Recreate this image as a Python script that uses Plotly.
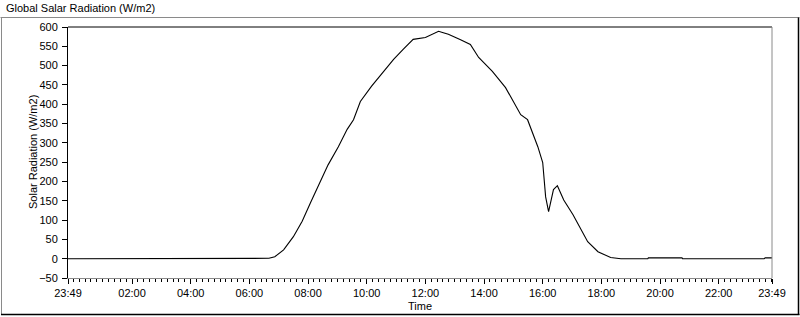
import plotly.graph_objects as go

# ---- data ----
times = [
    "2000-01-01 23:49", "2000-01-02 06:30", "2000-01-02 06:40", "2000-01-02 06:52",
    "2000-01-02 07:10", "2000-01-02 07:30", "2000-01-02 07:48", "2000-01-02 08:05",
    "2000-01-02 08:23", "2000-01-02 08:41", "2000-01-02 09:02", "2000-01-02 09:20",
    "2000-01-02 09:33", "2000-01-02 09:47", "2000-01-02 10:10", "2000-01-02 10:34",
    "2000-01-02 10:55", "2000-01-02 11:15", "2000-01-02 11:35", "2000-01-02 12:00",
    "2000-01-02 12:27", "2000-01-02 12:35", "2000-01-02 12:47", "2000-01-02 13:12",
    "2000-01-02 13:32", "2000-01-02 13:49", "2000-01-02 14:17", "2000-01-02 14:44",
    "2000-01-02 15:15", "2000-01-02 15:29", "2000-01-02 15:50", "2000-01-02 16:00",
    "2000-01-02 16:02", "2000-01-02 16:06", "2000-01-02 16:12", "2000-01-02 16:22",
    "2000-01-02 16:30", "2000-01-02 16:43", "2000-01-02 17:02", "2000-01-02 17:18",
    "2000-01-02 17:32", "2000-01-02 17:53", "2000-01-02 18:19", "2000-01-02 18:40",
    "2000-01-02 19:35", "2000-01-02 19:36", "2000-01-02 20:45", "2000-01-02 20:46",
    "2000-01-02 23:33", "2000-01-02 23:35", "2000-01-02 23:49",
]
radiation = [
    0, 0, 1, 5,
    23, 57, 97, 145,
    192, 243, 290, 335,
    360, 407, 447, 485,
    516, 543, 568, 573,
    589, 586, 581, 567,
    555, 521, 485, 443,
    373, 360, 290, 249,
    212, 160, 122, 179,
    189, 152, 114, 75,
    44, 18, 3, 0,
    0, 2, 2, 0,
    0, 2, 2,
]

x_tick_vals = [
    "2000-01-01 23:49", "2000-01-02 02:00", "2000-01-02 04:00", "2000-01-02 06:00",
    "2000-01-02 08:00", "2000-01-02 10:00", "2000-01-02 12:00", "2000-01-02 14:00",
    "2000-01-02 16:00", "2000-01-02 18:00", "2000-01-02 20:00", "2000-01-02 22:00",
    "2000-01-02 23:49",
]
x_tick_text = ["23:49", "02:00", "04:00", "06:00", "08:00", "10:00", "12:00",
               "14:00", "16:00", "18:00", "20:00", "22:00", "23:49"]

title_text = "Global Salar Radiation (W/m2)"
y_title = "Solar Radiation (W/m2)"
x_title = "Time"

FONT = "Liberation Sans"

fig = go.Figure()
fig.add_trace(go.Scatter(x=times, y=radiation, mode="lines",
                         line=dict(color="black", width=1.1), hoverinfo="skip"))

W, H = 800, 317
L, R, T, B = 68, 28, 27, 39
pw, ph = W - L - R, H - T - B


def px(xp):
    return (xp - L) / pw


def py(yp):
    return (H - B - yp) / ph


fig.update_layout(
    width=W, height=H,
    margin=dict(l=L, r=R, t=T, b=B, autoexpand=False),
    paper_bgcolor="white", plot_bgcolor="white",
    showlegend=False,
    font=dict(family=FONT, size=11, color="black"),
    xaxis=dict(
        type="date", range=[x_tick_vals[0], x_tick_vals[-1]],
        tickmode="array", tickvals=x_tick_vals, ticktext=x_tick_text,
        ticks="outside", ticklen=5, tickcolor="black", tickwidth=1,
        showline=True, linecolor="#8a8a8a", linewidth=1,
        showgrid=False, zeroline=False, automargin=False,
        ticklabelstandoff=0,
        tickfont=dict(family=FONT, size=11, color="black"),
        minor=dict(ticks="outside", ticklen=3, tickcolor="black", tickwidth=1,
                   tickmode="linear", tick0="2000-01-02 00:00", dtick=720000,
                   showgrid=False),
    ),
    yaxis=dict(
        range=[-50, 600], tickmode="linear", tick0=0, dtick=50,
        ticks="outside", ticklen=5, tickcolor="black", tickwidth=1,
        showline=True, linecolor="black", linewidth=1,
        showgrid=False, zeroline=False, automargin=False,
        ticklabelstandoff=2,
        tickfont=dict(family=FONT, size=11, color="black"),
    ),
)

shapes = [
    # plot frame: top black, right gray
    dict(type="line", xref="paper", yref="paper", x0=0, x1=1, y0=1, y1=1,
         line=dict(color="black", width=1)),
    dict(type="line", xref="paper", yref="paper", x0=1, x1=1, y0=0, y1=1,
         line=dict(color="#8a8a8a", width=1)),
    # outer frame: top/left gray, bottom/right black
    dict(type="line", xref="paper", yref="paper", x0=px(0.5), x1=px(799.5), y0=py(17.5), y1=py(17.5),
         line=dict(color="#8a8a8a", width=1)),
    dict(type="line", xref="paper", yref="paper", x0=px(1.5), x1=px(1.5), y0=py(17.5), y1=py(315),
         line=dict(color="#8a8a8a", width=1)),
    dict(type="line", xref="paper", yref="paper", x0=px(798.5), x1=px(798.5), y0=py(17.5), y1=py(315),
         line=dict(color="black", width=1.5)),
    dict(type="line", xref="paper", yref="paper", x0=px(1), x1=px(799.5), y0=py(314.5), y1=py(314.5),
         line=dict(color="black", width=1.5)),
]
fig.update_layout(shapes=shapes)

fig.add_annotation(text=title_text, xref="paper", yref="paper", x=px(4), y=py(8),
                   xanchor="left", yanchor="middle", showarrow=False,
                   font=dict(family=FONT, size=11, color="black"))
fig.add_annotation(text=y_title, xref="paper", yref="paper", x=px(33), y=py(152),
                   xanchor="center", yanchor="middle", textangle=-90, showarrow=False,
                   font=dict(family=FONT, size=11, color="black"))
fig.add_annotation(text=x_title, xref="paper", yref="paper", x=px(420), y=py(306),
                   xanchor="center", yanchor="middle", showarrow=False,
                   font=dict(family=FONT, size=11, color="black"))

fig.write_html("out.html", config={"displayModeBar": False},
               post_script="document.body.style.margin='0';document.body.style.padding='0';")
